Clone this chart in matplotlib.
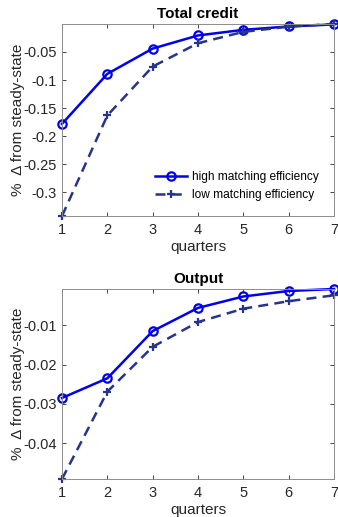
import numpy as np
import matplotlib.pyplot as plt

plt.rcParams['font.family'] = ['Liberation Sans', 'DejaVu Sans']

quarters = [1, 2, 3, 4, 5, 6, 7]

credit_high = [-0.178, -0.089, -0.044, -0.0207, -0.0107, -0.0047, -0.001]
credit_low = [-0.342, -0.163, -0.076, -0.0345, -0.0143, -0.005, -0.0003]

output_high = [-0.0285, -0.0235, -0.0115, -0.0056, -0.0027, -0.0013, -0.0008]
output_low = [-0.0491, -0.0269, -0.0155, -0.0092, -0.0058, -0.0039, -0.0024]

credit_ticks = [-0.3, -0.25, -0.2, -0.15, -0.1, -0.05]
credit_ticklabels = ['-0.3', '-0.25', '-0.2', '-0.15', '-0.1', '-0.05']
output_ticks = [-0.04, -0.03, -0.02, -0.01]
output_ticklabels = ['-0.04', '-0.03', '-0.02', '-0.01']

high_color = '#0000f0'
low_color = '#27348b'
axis_color = '#262626'


def draw_panel(ax, title, high, low, yticks, yticklabels, legend=False):
    ax.plot(quarters, high, color=high_color, lw=1.8, marker='o', ms=6,
            mfc='none', mew=1.6, label='high matching efficiency', clip_on=False)
    ax.plot(quarters, low, color=low_color, lw=1.8, ls=(0, (4, 2.5)), marker='+',
            ms=6, mew=1.6, label='low matching efficiency', clip_on=False)
    allv = np.concatenate([high, low])
    ax.set_ylim(allv.min(), allv.max())
    ax.set_xlim(1, 7)
    ax.set_xticks(quarters)
    ax.set_yticks(yticks)
    ax.set_yticklabels(yticklabels)
    ax.set_title(title, fontsize=11, fontweight='bold', pad=4)
    ax.set_xlabel('quarters', fontsize=11, color=axis_color, labelpad=2)
    ax.set_ylabel('%  \u0394 from steady-state', fontsize=11, color=axis_color, labelpad=-1.5)
    ax.tick_params(direction='in', length=3, width=0.6, labelsize=10.5,
                   colors=axis_color, top=True, right=True, pad=4)
    ax.tick_params(axis='x', pad=5)
    for s in ax.spines.values():
        s.set_color('#8c8c8c')
        s.set_linewidth(0.7)
    if legend:
        ax.legend(loc='lower right', frameon=False, fontsize=8.6, handlelength=2.7,
                  handletextpad=0.4, labelspacing=0.45, borderaxespad=0.0,
                  bbox_to_anchor=(0.96, 0.055))


fig = plt.figure(figsize=(3.38, 5.17), dpi=100)
ax1 = fig.add_axes([0.1834, 0.582, 0.805, 0.3716])
ax2 = fig.add_axes([0.1834, 0.0735, 0.805, 0.3675])

draw_panel(ax1, 'Total credit', credit_high, credit_low, credit_ticks,
           credit_ticklabels, legend=True)
draw_panel(ax2, 'Output', output_high, output_low, output_ticks, output_ticklabels)

fig.savefig('out.png', dpi=100)
